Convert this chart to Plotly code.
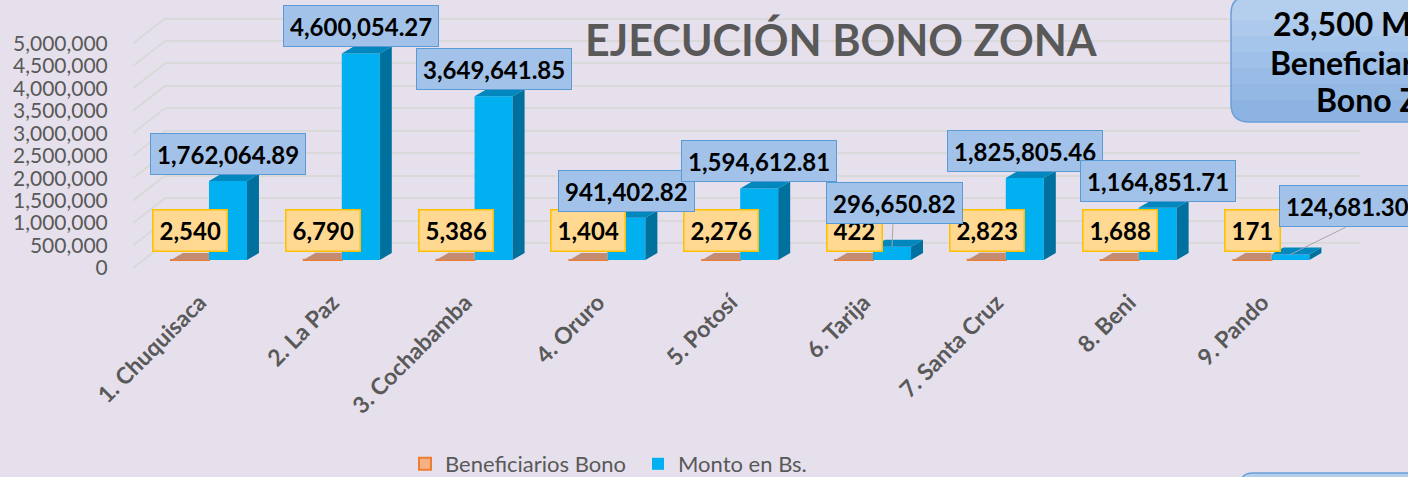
import plotly.graph_objects as go

# ---- data -------------------------------------------------------------
departamentos = ["1. Chuquisaca", "2. La Paz", "3. Cochabamba", "4. Oruro",
                 "5. Potosí", "6. Tarija", "7. Santa Cruz", "8. Beni", "9. Pando"]
beneficiarios = [2540, 6790, 5386, 1404, 2276, 422, 2823, 1688, 171]
monto_bs = [1762064.89, 4600054.27, 3649641.85, 941402.82, 1594612.81,
            296650.82, 1825805.46, 1164851.71, 124681.30]
y_ticks = [0, 500000, 1000000, 1500000, 2000000, 2500000,
           3000000, 3500000, 4000000, 4500000, 5000000]
titulo = "EJECUCIÓN BONO ZONA"
recuadro = ["23,500 Mil", "Beneficiarios", "Bono Zona"]

# ---- geometry (pixels) ------------------------------------------------
W, H = 1408, 477
PLOT_L, PLOT_R = 165, 1360
PLOT_T, PLOT_B = 8, 275
PX_PER_UNIT_Y = 44.9 / 1e6
BASE_PX = 260        # floor under the bars
LABEL_BASE_PX = 268  # front edge of the floor (axis labels)
GRID_BASE_PX = 243   # back wall
X_RANGE = [-0.331, 8.667]
px_per_cat = (PLOT_R - PLOT_L) / (X_RANGE[1] - X_RANGE[0])
BAR_W = 38 / px_per_cat
DX = 12 / px_per_cat
DY = 7 / PX_PER_UNIT_Y
B0 = (LABEL_BASE_PX - BASE_PX) / PX_PER_UNIT_Y   # bars stand a little behind the front edge

FONT = "Lato"
GREY = "#595959"
BG = "#E6E0EC"


def yrange(base_px):
    return [(base_px - PLOT_B) / PX_PER_UNIT_Y, (base_px - PLOT_T) / PX_PER_UNIT_Y]


def fx(px):
    return (px - PLOT_L) / (PLOT_R - PLOT_L)


def fy(py):
    return (PLOT_B - py) / (PLOT_B - PLOT_T)


xs = list(range(len(departamentos)))

fig = go.Figure()

# front faces
fig.add_trace(go.Bar(
    x=xs, y=beneficiarios, base=B0, width=BAR_W, offset=-BAR_W,
    marker=dict(color="#F4B183", line=dict(color="#ED7D31", width=2)),
    name="Beneficiarios Bono", hoverinfo="skip"))
fig.add_trace(go.Bar(
    x=xs, y=monto_bs, base=B0, width=BAR_W, offset=0,
    marker=dict(color="#00B0F0", line=dict(width=0)),
    name="Monto en Bs.", hoverinfo="skip"))


def top_faces(lefts, vals, clip_right=False):
    px, py = [], []
    for xl, v in zip(lefts, vals):
        xr = xl + BAR_W
        t = B0 + v
        if clip_right:
            px += [xl, xl + DX, xr, xr, xl, None]
        else:
            px += [xl, xl + DX, xr + DX, xr, xl, None]
        py += [t, t + DY, t + DY, t, t, None]
    return px, py


def side_faces(lefts, vals):
    px, py = [], []
    for xl, v in zip(lefts, vals):
        xr = xl + BAR_W
        t = B0 + v
        px += [xr, xr + DX, xr + DX, xr, xr, None]
        py += [B0, B0 + DY, t + DY, t, B0, None]
    return px, py


def face(px, py, color):
    return go.Scatter(x=px, y=py, mode="lines", fill="toself", fillcolor=color,
                      line=dict(width=0, color=color), hoverinfo="skip",
                      showlegend=False)


orange_left = [x - BAR_W for x in xs]
blue_left = list(xs)
fig.add_trace(face(*top_faces(orange_left, beneficiarios, clip_right=True), "#C58B70"))
fig.add_trace(face(*side_faces(blue_left, monto_bs), "#00709E"))
fig.add_trace(face(*top_faces(blue_left, monto_bs), "#0087BE"))

shapes = []
# perspective lines on the left wall
for v in y_ticks:
    shapes.append(dict(type="line", xref="paper", yref="y3", ysizemode="pixel",
                       yanchor=v, x0=fx(133), x1=0, y0=-25, y1=0,
                       line=dict(color="#D9D9D9", width=2), layer="below"))

LABEL_FONT = dict(family=FONT, size=24, color="black", weight="bold")
annotations = []
# labels for beneficiaries
for x, b in zip(xs, beneficiarios):
    annotations.append(dict(
        x=x - BAR_W / 2, y=B0 + b, xref="x", yref="y", yshift=29, showarrow=False,
        text=f"{b:,}", font=LABEL_FONT, height=28,
        bgcolor="#FFD891", bordercolor="#FFC000", borderwidth=1.5, borderpad=6))

# labels for amounts; some sit on leader lines
leader = {5: (2, 44, 1, 24), 8: (57, 48, 55, 27)}
for x, v in zip(xs, monto_bs):
    xshift, yshift = 0, 27
    if x in leader:
        xshift, yshift, lx, ly = leader[x]
        shapes.append(dict(type="line", xref="x", yref="y", xsizemode="pixel",
                           ysizemode="pixel", xanchor=x + BAR_W / 2, yanchor=B0 + v,
                           x0=0, y0=0, x1=lx, y1=ly,
                           line=dict(color="#A6A6A6", width=1)))
    annotations.append(dict(
        x=x + BAR_W / 2, y=B0 + v, xref="x", yref="y", xshift=xshift, yshift=yshift,
        showarrow=False, text=f"{v:,.2f}", font=LABEL_FONT, height=28,
        bgcolor="#A2C2E9", bordercolor="#5B9BD5", borderwidth=1, borderpad=6))

# title
annotations.append(dict(x=fx(841), y=fy(40), xref="paper", yref="paper",
                        xanchor="center", yanchor="middle",
                        showarrow=False, text=titulo,
                        font=dict(family=FONT, size=43, color=GREY, weight="bold")))

# rounded box in the upper right corner (vertical gradient in bands)
L, T, B, R, RAD = 1231, -4, 122, 1460, 18


def P(px, py):
    return f"{fx(px):.5f},{fy(py):.5f}"


box_path = (f"M{P(L, T + RAD)} L{P(L, B - RAD)} Q{P(L, B)} {P(L + RAD, B)} "
            f"L{P(R, B)} L{P(R, T)} L{P(L + RAD, T)} Q{P(L, T)} {P(L, T + RAD)} Z")
shapes.append(dict(type="path", xref="paper", yref="paper", path=box_path,
                   fillcolor="#8DB3E2", line=dict(width=0)))
band_colors = ["#93B8E4", "#99BCE6", "#9FC0E8", "#A6C5EA", "#ADC9EC", "#B4CEEE"]
band_bottoms = [100, 84, 68, 52, 36, 20]
for c, yb in zip(band_colors, band_bottoms):
    p = (f"M{P(L, yb)} L{P(L, T + RAD)} Q{P(L, T)} {P(L + RAD, T)} "
         f"L{P(R, T)} L{P(R, yb)} Z")
    shapes.append(dict(type="path", xref="paper", yref="paper", path=p,
                       fillcolor=c, line=dict(width=0)))
shapes.append(dict(type="path", xref="paper", yref="paper", path=box_path,
                   fillcolor="rgba(0,0,0,0)", line=dict(color="#6A9FD8", width=1.5)))

for txt, x0, yc in zip(recuadro, [1271, 1268, 1314], [23, 62, 100]):
    annotations.append(dict(x=fx(x0), y=fy(yc), xref="paper", yref="paper",
                            xanchor="left", yanchor="middle", showarrow=False,
                            text=txt,
                            font=dict(family=FONT, size=32, color="black", weight="bold")))

# second rounded box peeking at the bottom right
L2, T2, B2, R2, RAD2 = 1240, 473, 500, 1460, 13
box2 = (f"M{P(L2, B2)} L{P(L2, T2 + RAD2)} Q{P(L2, T2)} {P(L2 + RAD2, T2)} "
        f"L{P(R2, T2)} L{P(R2, B2)} Z")
shapes.append(dict(type="path", xref="paper", yref="paper", path=box2,
                   fillcolor="#B4CFEE", line=dict(color="#6A9FD8", width=1.5)))

fig.update_layout(
    width=W, height=H,
    margin=dict(l=PLOT_L, r=W - PLOT_R, t=PLOT_T, b=H - PLOT_B, autoexpand=False),
    paper_bgcolor=BG, plot_bgcolor=BG,
    barmode="overlay",
    showlegend=True,
    legend=dict(orientation="h", x=fx(405), y=fy(464), xanchor="left",
                yanchor="middle", font=dict(family=FONT, size=22, color=GREY),
                bgcolor="rgba(0,0,0,0)", itemwidth=30, entrywidth=188),
    xaxis=dict(range=X_RANGE, tickvals=[x - 0.07 for x in xs], ticktext=departamentos,
               tickangle=-45, showgrid=False, zeroline=False, showline=False,
               ticks="outside", ticklen=4, tickcolor="rgba(0,0,0,0)",
               automargin=False,
               tickfont=dict(family=FONT, size=23, color=GREY, weight="bold")),
    yaxis=dict(range=yrange(LABEL_BASE_PX), tickvals=y_ticks, tickformat=",",
               showgrid=False, zeroline=False, ticks="outside", ticklen=52,
               tickcolor="rgba(0,0,0,0)", showticklabels=True, automargin=False,
               tickfont=dict(family=FONT, size=21, color=GREY)),
    yaxis3=dict(range=yrange(GRID_BASE_PX), overlaying="y", side="left",
                anchor="x", tickvals=y_ticks, showgrid=True, gridcolor="#D9D9D9",
                gridwidth=2, showticklabels=False, zeroline=False, automargin=False),
    shapes=shapes,
    annotations=annotations,
)

fig.write_html("out.html")
